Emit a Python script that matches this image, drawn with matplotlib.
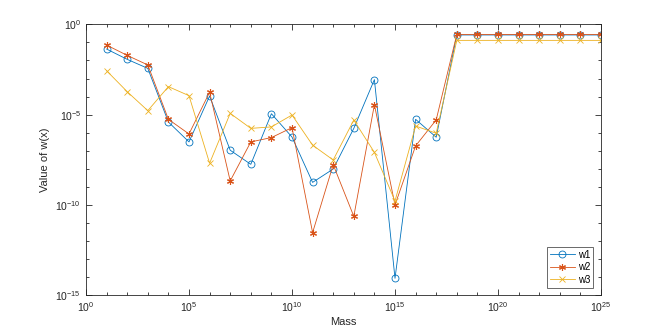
import numpy as np
import matplotlib
matplotlib.use("Agg")
import matplotlib.pyplot as plt
from matplotlib.ticker import FixedLocator, NullFormatter, LogFormatterSciNotation

plt.rcParams['font.family'] = ['Liberation Sans', 'DejaVu Sans']
plt.rcParams['mathtext.fontset'] = 'custom'
plt.rcParams['mathtext.rm'] = 'Liberation Sans'

# exponents of mass (10^1 .. 10^25)
mass_exp = np.arange(1, 26)

# log10 of w(x)
w1_log = [-1.37, -1.94, -2.44, -5.41, -6.51, -3.97, -6.97, -7.75, -4.95, -6.24,
          -8.75, -8.01, -5.76, -3.06, -14.06, -5.26, -6.25,
          -0.59, -0.59, -0.59, -0.59, -0.59, -0.59, -0.59, -0.59]
w2_log = [-1.15, -1.72, -2.25, -5.26, -6.07, -3.76, -8.67, -6.51, -6.27, -5.72,
          -11.53, -7.77, -10.63, -4.45, -10.0, -6.73, -5.29,
          -0.56, -0.56, -0.56, -0.56, -0.56, -0.56, -0.56, -0.56]
w3_log = [-2.57, -3.73, -4.78, -3.45, -3.95, -7.69, -4.93, -5.76, -5.68, -5.02,
          -6.69, -7.51, -5.30, -7.09, -9.78, -5.63, -6.03,
          -0.89, -0.89, -0.89, -0.89, -0.89, -0.89, -0.89, -0.89]

mass = 10.0 ** mass_exp
w1 = 10.0 ** np.array(w1_log)
w2 = 10.0 ** np.array(w2_log)
w3 = 10.0 ** np.array(w3_log)

c1, c2, c3 = '#0072BD', '#D95319', '#EDB120'
axcol = '#262626'

fig = plt.figure(figsize=(6.64, 3.32), dpi=100)
ax = fig.add_axes([86/664, 1 - 295.3/332, (601 - 86)/664, (295.3 - 24.3)/332])

ax.loglog(mass, w1, '-o', color=c1, lw=0.6, ms=5, mfc='none', mew=0.6, label='w1')
ax.loglog(mass, w2, '-', marker=(6, 2, 0), color=c2, lw=0.6, ms=5, mew=0.8, label='w2')
ax.loglog(mass, w3, '-x', color=c3, lw=0.6, ms=4, mew=0.6, label='w3')

ax.set_xlim(1e0, 1e25)
ax.set_ylim(1e-15, 1e0)

ax.xaxis.set_major_locator(FixedLocator(10.0 ** np.arange(0, 26, 5)))
ax.xaxis.set_minor_locator(FixedLocator(10.0 ** np.arange(0, 26)))
ax.yaxis.set_major_locator(FixedLocator(10.0 ** np.arange(-15, 1, 5)))
ax.yaxis.set_minor_locator(FixedLocator(10.0 ** np.arange(-15, 1)))
ax.xaxis.set_major_formatter(LogFormatterSciNotation())
ax.yaxis.set_major_formatter(LogFormatterSciNotation())
ax.xaxis.set_minor_formatter(NullFormatter())
ax.yaxis.set_minor_formatter(NullFormatter())

ax.tick_params(which='both', direction='in', top=True, right=True,
               colors=axcol, labelsize=7.5, width=0.6)
ax.tick_params(which='major', length=4)
ax.tick_params(which='minor', length=2.5)
for s in ax.spines.values():
    s.set_color(axcol)
    s.set_linewidth(0.6)

ax.set_xlabel('Mass', fontsize=8, color=axcol, labelpad=2)
ax.set_ylabel('Value of w(x)', fontsize=8, color=axcol, labelpad=4)

leg = ax.legend(loc='lower right', fontsize=7, frameon=True, fancybox=False,
                edgecolor=axcol, handlelength=2.6, borderpad=0.3,
                labelspacing=0.25, handletextpad=0.3, borderaxespad=0.8)
leg.get_frame().set_linewidth(0.6)

fig.savefig('out.png', dpi=100)
